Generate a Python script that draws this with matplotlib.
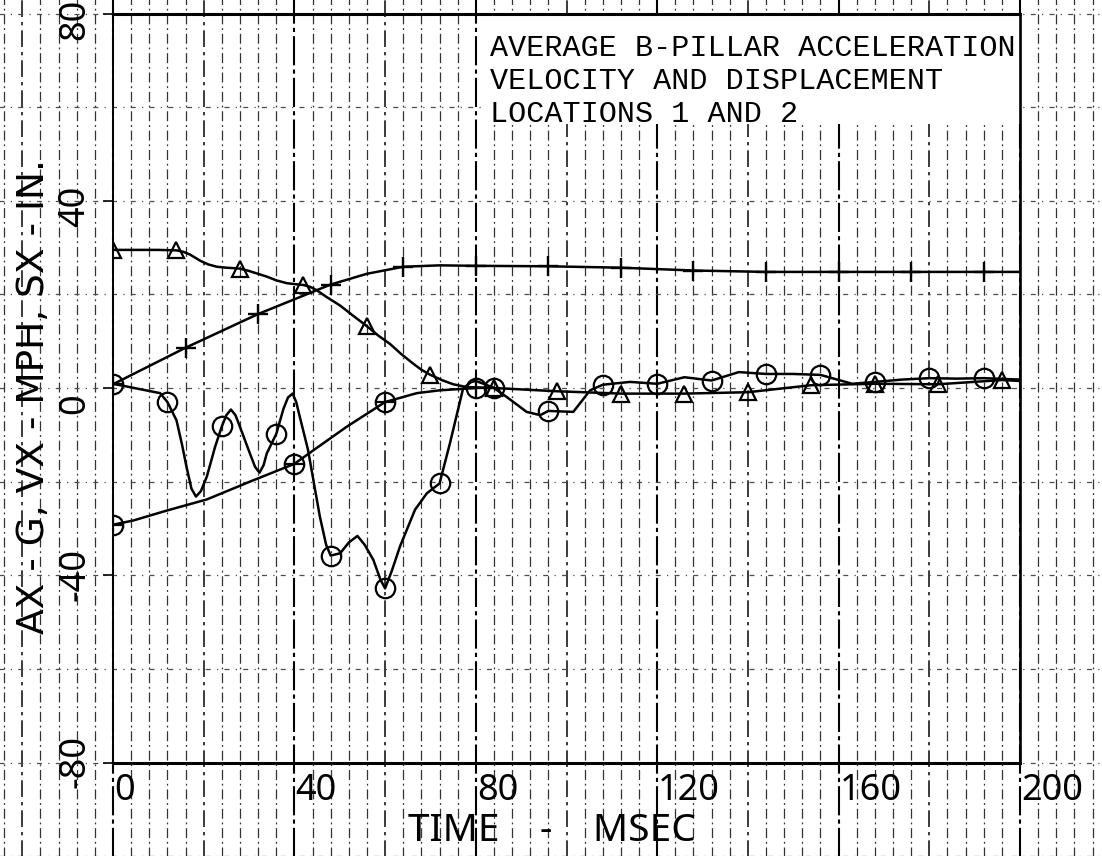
import numpy as np
import matplotlib
matplotlib.use("Agg")
import matplotlib.pyplot as plt
from matplotlib.transforms import offset_copy
from matplotlib.patches import Rectangle

# ---------------- data ----------------
# Acceleration AX (G) - plain circles
ax_t = [0, 10.4, 12, 14, 15.2, 16.2, 17.3, 18.3, 19.4, 20.7, 22.5, 24, 25, 26, 27,
        28, 30.2, 31.3, 32.3, 33.2, 33.9, 36, 37.6, 38.6, 39.6, 40.4, 41.2, 43,
        45.6, 47, 48, 50.1, 52, 53.9, 55.5, 57.4, 59, 60, 61.5, 63.3, 66.6, 69.2,
        72, 74.3, 77.2, 79, 80, 82, 84, 86.8, 91.2, 94.2, 96, 101.5, 105.2, 108,
        114, 120, 126, 132, 138, 144, 150, 156, 163, 168, 174, 180, 186, 192, 200]
ax_v = [0.9, -1.1, -3.0, -6.9, -12.0, -16.8, -21.5, -23.2, -22.0, -18.9, -12.6,
        -8.2, -5.8, -4.6, -5.8, -8.3, -14.0, -16.8, -18.1, -16.5, -14.0, -9.8,
        -4.4, -2.0, -1.2, -3.0, -6.2, -13.2, -27.4, -33.5, -35.8, -35.3, -33.0,
        -31.6, -33.5, -36.7, -41.0, -42.8, -39.0, -33.8, -26.0, -22.5, -20.4,
        -11.8, -0.1, 1.3, 1.5, 0.8, 0.0, -1.9, -5.1, -5.8, -4.9, -5.1, -0.5, 0.7,
        1.3, 0.9, 2.3, 1.6, 3.4, 3.0, 3.0, 2.8, 0.9, 1.3, 1.8, 2.1, 2.0, 2.1, 1.8]
ax_mark_t = [0, 12, 24, 36, 48, 60, 72, 84, 96, 108, 120, 132, 144, 156, 168, 180, 192]
ax_mark_v = [0.9, -3.0, -8.2, -9.8, -35.8, -42.8, -20.4, 0.0, -4.9, 0.7, 0.9, 1.6,
             3.0, 2.8, 1.3, 2.1, 2.1]

# Velocity VX (MPH) - triangles
vx_t = [0, 10, 14, 15.5, 17, 19.2, 21, 22.9, 25, 28, 30, 33.9, 36, 38.3, 40, 42,
        43.5, 44.9, 47, 50.1, 53, 56, 58.5, 61.1, 63.5, 66.2, 68, 70, 72.5, 75, 78,
        84, 98, 112, 126, 140, 154, 168, 182, 196, 200]
vx_v = [29.5, 29.5, 29.4, 29.1, 28.5, 27.2, 26.4, 25.9, 25.7, 25.5, 25.0, 23.8,
        23.0, 22.4, 22.2, 22.0, 21.6, 20.9, 19.5, 17.6, 15.4, 13.2, 11.2, 9.4, 7.3,
        5.2, 3.9, 2.8, 1.7, 0.8, 0.2, 0.0, -0.7, -1.2, -1.2, -0.9, 0.6, 0.9, 0.8,
        1.7, 1.5]
vx_mark_t = [0, 14, 28, 42, 56, 70, 84, 98, 112, 126, 140, 154, 168, 182, 196]
vx_mark_v = [29.5, 29.4, 25.5, 22.0, 13.2, 2.8, 0.0, -0.7, -1.2, -1.2, -0.9, 0.6,
             0.9, 0.8, 1.7]

# Displacement SX (IN) - plus signs
sx_t = [0, 16, 32, 48, 56, 64, 72, 80, 96, 112, 128, 144, 160, 176, 192, 200]
sx_v = [0.8, 8.6, 15.8, 22.1, 24.4, 25.9, 26.2, 26.1, 26.0, 25.7, 25.1, 24.8, 24.8,
        24.8, 24.8, 24.8]
sx_mark_t = [0, 16, 32, 48, 64, 80, 96, 112, 128, 144, 160, 176, 192]
sx_mark_v = [0.8, 8.6, 15.8, 22.1, 25.9, 26.1, 26.0, 25.7, 25.1, 24.8, 24.8, 24.8, 24.8]

# Fourth trace - circled plus
dv_t = [0, 4.5, 11.8, 20.7, 30.2, 40, 44.2, 51.5, 60, 67, 72, 80]
dv_v = [-29.2, -28.3, -26.2, -23.8, -20.0, -16.2, -13.3, -8.3, -3.0, -1.1, -0.5, 0.0]
dv_mark_t = [0, 40, 60, 80]
dv_mark_v = [-29.2, -16.2, -3.0, 0.0]

x_ticks = [0, 40, 80, 120, 160, 200]
x_tick_labels = ["0", "40", "80", "120", "160", "200"]
y_ticks = [-80, -40, 0, 40, 80]
y_tick_labels = ["-80", "-40", "0", "40", "80"]
note_lines = ["AVERAGE B-PILLAR ACCELERATION",
              "VELOCITY AND DISPLACEMENT",
              "LOCATIONS 1 AND 2"]
x_label = "TIME    -    MSEC"
y_label = "AX - G, VX - MPH, SX - IN."

# ---------------- figure ----------------
W, H, DPI = 1102, 856, 100
fig = plt.figure(figsize=(W / DPI, H / DPI), dpi=DPI)
fig.patch.set_facecolor("white")
L, R, T, B = 113, 1020, 13.5, 762.5
ax = fig.add_axes([L / W, 1 - B / H, (R - L) / W, (B - T) / H])
ax.set_xlim(0, 200)
ax.set_ylim(-80, 80)
ax.set_facecolor("none")

# graph-paper grid (extends over whole sheet)
xt = ax.get_xaxis_transform()
yt = ax.get_yaxis_transform()
for gx in np.arange(-24, 224, 4):
    if gx % 40 == 0:
        kw = dict(color="black", lw=1.5, dashes=(14, 2, 2, 2))
    elif gx % 20 == 0:
        kw = dict(color="0.1", lw=1.2, dashes=(10, 3, 2, 3))
    else:
        kw = dict(color="0.2", lw=0.9, dashes=(8, 3, 1.5, 3))
    ax.plot([gx, gx], [-0.2, 1.05], transform=xt, clip_on=False, zorder=1, **kw)
for gy in np.arange(-100, 100, 20):
    ax.plot([-0.15, 1.12], [gy, gy], transform=yt, clip_on=False, zorder=1,
            color="0.3", lw=0.9, dashes=(4, 5, 1, 5))

# white label block in the upper right
ax.add_patch(Rectangle((81.5, 56.3), 118.5, 24, facecolor="white",
                       edgecolor="none", zorder=1.5))

# curves
lw = 1.8
ax.plot(sx_t, sx_v, color="black", lw=lw, zorder=3)
ax.plot(sx_mark_t, sx_mark_v, ls="none", marker="+", ms=14, mew=1.7,
        color="black", zorder=4)
ax.plot(vx_t, vx_v, color="black", lw=lw, zorder=3)
ax.plot(vx_mark_t, vx_mark_v, ls="none", marker="^", ms=12, mew=1.6,
        mfc="none", mec="black", zorder=4)
ax.plot(ax_t, ax_v, color="black", lw=lw, zorder=3)
ax.plot(ax_mark_t, ax_mark_v, ls="none", marker="o", ms=14, mew=1.6,
        mfc="none", mec="black", zorder=4)
ax.plot(dv_t, dv_v, color="black", lw=lw, zorder=3)
ax.plot(dv_mark_t, dv_mark_v, ls="none", marker="o", ms=14, mew=1.6,
        mfc="none", mec="black", zorder=4)
ax.plot(dv_mark_t, dv_mark_v, ls="none", marker="+", ms=14, mew=1.6,
        color="black", zorder=4)

# spines & ticks
for side, w in (("top", 2.2), ("bottom", 2.2), ("left", 1.4), ("right", 1.9)):
    ax.spines[side].set_linewidth(w)
    ax.spines[side].set_color("black")
    ax.spines[side].set_zorder(5)
ax.set_xticks(x_ticks)
ax.set_yticks(y_ticks)
ax.tick_params(direction="out", length=7, width=1.2, color="black",
               labelleft=False, labelbottom=False)

tick_font = dict(family="Noto Sans", size=26, color="black")
for v, lab in zip(x_ticks, x_tick_labels):
    tr = offset_copy(xt, fig=fig, x=1, y=-10, units="dots")
    ax.text(v, 0, lab, transform=tr, ha="left", va="top", **tick_font)
for v, lab in zip(y_ticks, y_tick_labels):
    tr = offset_copy(yt, fig=fig, x=-20, y=-26, units="dots")
    ax.text(0, v, lab, transform=tr, ha="right", va="bottom", rotation=90,
            **tick_font)

fig.text(552 / W, 1 - 831 / H, x_label, ha="center", va="center",
         family="Noto Sans", size=28, color="black")
fig.text(34 / W, 1 - 397 / H, y_label, ha="center", va="center", rotation=90,
         family="DejaVu Sans", size=27, color="black")

for i, line in enumerate(note_lines):
    fig.text(490 / W, 1 - (56.5 + 32.5 * i) / H, line, ha="left",
             va="baseline", family="Liberation Mono", size=21.7, color="black")

fig.savefig("out.png", dpi=DPI, facecolor="white")
